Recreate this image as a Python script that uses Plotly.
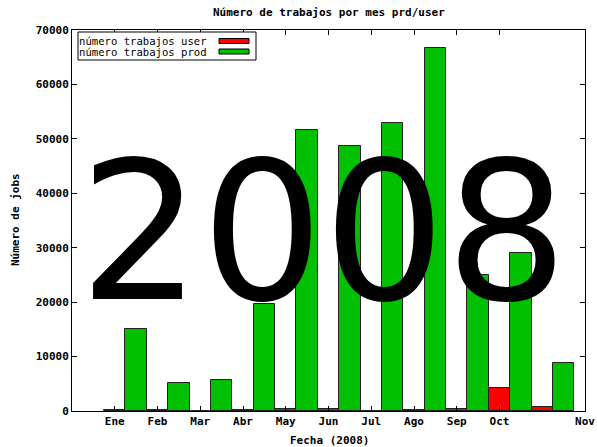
import plotly.graph_objects as go

# ---- data ----
month_labels = ["Ene", "Feb", "Mar", "Abr", "May", "Jun", "Jul", "Ago", "Sep", "Oct", "Nov"]
month_pos = [0, 1, 2, 3, 4, 5, 6, 7, 8, 9, 11]
bar_pos = [0, 1, 2, 3, 4, 5, 6, 7, 8, 9, 10]
jobs_user = [150, 120, 0, 120, 400, 400, 0, 100, 400, 4200, 800]
jobs_prod = [15000, 5100, 5700, 19600, 51700, 48700, 53000, 66700, 25000, 29000, 8800]

FONT = "DejaVu Sans Mono"
RED = "#ff0000"
GREEN = "#00c000"
EDGE = "#222222"

fig = go.Figure()
fig.add_trace(go.Bar(x=bar_pos, y=jobs_user, width=0.5, offset=-0.25,
                     marker=dict(color=RED, line=dict(color=EDGE, width=1)),
                     name="número trabajos user"))
fig.add_trace(go.Bar(x=bar_pos, y=jobs_prod, width=0.5, offset=0.25,
                     marker=dict(color=GREEN, line=dict(color=EDGE, width=1)),
                     name="número trabajos prod"))

axis_common = dict(showline=True, linecolor="black", linewidth=1, mirror="allticks",
                   ticks="inside", ticklen=5, tickcolor="black", showgrid=False,
                   zeroline=False, automargin=False,
                   tickfont=dict(family=FONT, size=11, color="black", weight="bold"))

fig.update_layout(
    width=597, height=447,
    margin=dict(l=72, r=12, t=30, b=36),
    paper_bgcolor="white", plot_bgcolor="white",
    barmode="overlay", bargap=0,
    showlegend=False,
    xaxis=dict(range=[-1, 11], tickvals=month_pos, ticktext=month_labels, **axis_common),
    yaxis=dict(range=[0, 70000], dtick=10000, tickformat="d", **axis_common),
)

bold = dict(family=FONT, size=11, color="black", weight="bold")

def px(x):
    return (x - 72) / 513

def py(y):
    return (411 - y) / 381

# title and axis titles
fig.add_annotation(text="Número de trabajos por mes prd/user", xref="paper", yref="paper",
                   x=px(329), y=py(12), showarrow=False, font=bold,
                   xanchor="center", yanchor="middle")
fig.add_annotation(text="Fecha (2008)", xref="paper", yref="paper",
                   x=px(329), y=py(440), showarrow=False, font=bold,
                   xanchor="center", yanchor="middle")
fig.add_annotation(text="Número de jobs", xref="paper", yref="paper",
                   x=px(15), y=py(220), showarrow=False, font=bold,
                   textangle=-90, xanchor="center", yanchor="middle")

# custom gnuplot-style legend (key)
fig.add_shape(type="rect", xref="paper", yref="paper", x0=px(78), x1=px(256), y0=py(60), y1=py(32),
              line=dict(color="black", width=1), fillcolor="white", layer="above")
for label, color, yc in [("número trabajos user", RED, 41), ("número trabajos prod", GREEN, 51.5)]:
    fig.add_annotation(text=label, xref="paper", yref="paper", x=px(78), y=py(yc),
                       showarrow=False, font=dict(family=FONT, size=10.6, color="black"),
                       xanchor="left", yanchor="middle", borderpad=0)
    fig.add_shape(type="rect", xref="paper", yref="paper", x0=px(219), x1=px(249),
                  y0=py(yc + 2.5), y1=py(yc - 2.5), line=dict(color="black", width=1),
                  fillcolor=color, layer="above")

# big overlay year text
fig.add_annotation(text="2008", xref="paper", yref="paper", x=px(323), y=py(232),
                   showarrow=False, font=dict(family="DejaVu Sans", size=192, color="black"),
                   xanchor="center", yanchor="middle")

fig.write_html("out.html", config={"displayModeBar": False},
               post_script="document.body.style.margin='0';")
